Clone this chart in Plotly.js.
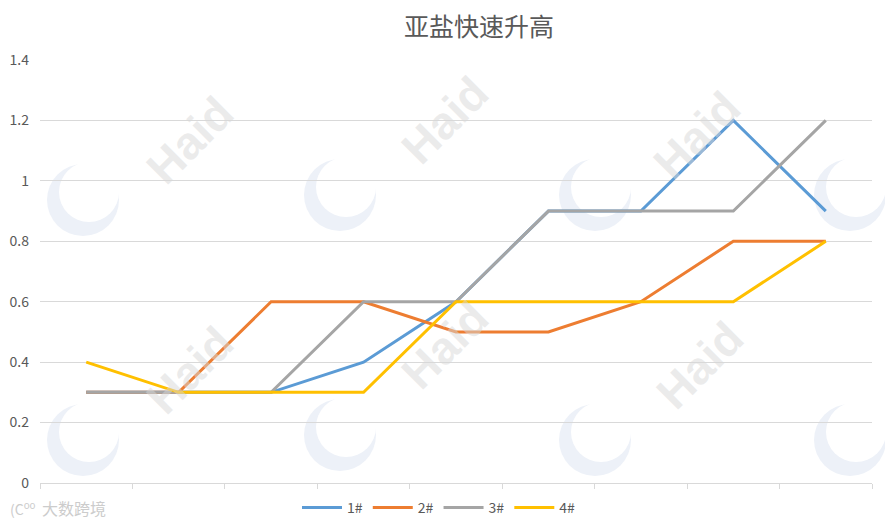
<!DOCTYPE html>
<html>
<head>
<meta charset="utf-8">
<script src="https://cdn.plot.ly/plotly-3.0.1.min.js"></script>
<style>html,body{margin:0;padding:0;background:#fff;}#chart{width:885px;height:523px;}</style>
</head>
<body>
<div id="chart"></div>
<script>
const categories = [1, 2, 3, 4, 5, 6, 7, 8, 9];
const seriesNames = ["1#", "2#", "3#", "4#"];
const s1 = [0.3, 0.3, 0.3, 0.4, 0.6, 0.9, 0.9, 1.2, 0.9];
const s2 = [0.3, 0.3, 0.6, 0.6, 0.5, 0.5, 0.6, 0.8, 0.8];
const s3 = [0.3, 0.3, 0.3, 0.6, 0.6, 0.9, 0.9, 0.9, 1.2];
const s4 = [0.4, 0.3, 0.3, 0.3, 0.6, 0.6, 0.6, 0.6, 0.8];
const yTicks = [0, 0.2, 0.4, 0.6, 0.8, 1, 1.2, 1.4];
const yTickText = ["0", "0.2", "0.4", "0.6", "0.8", "1", "1.2", "1.4"];
const colors = ["#5B9BD5", "#ED7D31", "#A5A5A5", "#FFC000"];

const seriesData = [s1, s2, s3, s4];
const xIdx = categories.map((c, i) => i);
const traces = seriesData.map((ys, k) => ({
  x: xIdx, y: ys, name: seriesNames[k], type: "scatter", mode: "lines",
  line: {color: colors[k], width: 3}
}));

const boundaries = [];
for (let i = 0; i <= categories.length; i++) boundaries.push(i - 0.5);

const font = "'Noto Sans CJK SC', 'Noto Sans', sans-serif";

// decorative watermark (Haid logo) - purely cosmetic
const W = 885, H = 523, ML = 40, MR = 13, MT = 60, MB = 40;
const PW = W - ML - MR, PH = H - MT - MB;
const px = x => (x - ML) / PW;
const py = y => (H - MB - y) / PH;
const wmText = [[190,140],[445,120],[697,135],[190,370],[445,345],[700,365]];
const wmRing = [[83,200],[340,195],[595,195],[850,195],[83,440],[340,435],[595,440],[850,440]];
const annotations = [];
const shapes = [];
wmRing.forEach(p => {
  const cx = px(p[0]), cy = py(p[1]);
  shapes.push({type: "circle", xref: "paper", yref: "paper", xsizemode: "pixel", ysizemode: "pixel",
    xanchor: cx, yanchor: cy, x0: -36, x1: 36, y0: -36, y1: 36, layer: "below",
    fillcolor: "#edf1f8", line: {width: 0}});
  shapes.push({type: "circle", xref: "paper", yref: "paper", xsizemode: "pixel", ysizemode: "pixel",
    xanchor: cx, yanchor: cy, x0: -24, x1: 36, y0: -22, y1: 38, layer: "below",
    fillcolor: "#ffffff", line: {width: 0}});
});
wmText.forEach(p => annotations.push({text: "<b>Haid</b>", x: px(p[0]), y: py(p[1]),
  xref: "paper", yref: "paper", xanchor: "center", yanchor: "middle", showarrow: false, textangle: -45,
  font: {family: "Liberation Sans, Arial, sans-serif", size: 46, color: "rgba(215,215,215,0.5)"}}));
annotations.push({text: "大数跨境", x: px(40), y: py(508), xref: "paper", yref: "paper",
  xanchor: "left", yanchor: "middle", showarrow: false,
  font: {family: font, size: 16, color: "#cccccc"}});
annotations.push({text: "(C<sup>oo</sup>", x: px(8), y: py(508), xref: "paper", yref: "paper",
  xanchor: "left", yanchor: "middle", showarrow: false,
  font: {family: font, size: 14, color: "#cccccc"}});

const layout = {
  width: W, height: H,
  margin: {l: ML, r: MR, t: MT, b: MB},
  paper_bgcolor: "#ffffff", plot_bgcolor: "rgba(0,0,0,0)",
  title: {text: "亚盐快速升高", x: 479 / W, xref: "container", xanchor: "center",
    y: 1 - 27 / H, yref: "container", yanchor: "middle",
    font: {family: font, size: 25, color: "#595959"}},
  xaxis: {range: [-0.5, categories.length - 0.5], tickmode: "array", tickvals: boundaries,
    showticklabels: false, ticks: "outside", ticklen: 5, tickcolor: "#d9d9d9",
    showgrid: false, zeroline: false, showline: true, linecolor: "#d9d9d9", linewidth: 1, fixedrange: true},
  yaxis: {range: [0, 1.4], tickmode: "array", tickvals: yTicks, ticktext: yTickText,
    showgrid: true, gridcolor: "#d9d9d9", gridwidth: 1, zeroline: false, showline: false,
    ticks: "", tickfont: {family: font, size: 14, color: "#595959"}, ticklabelstandoff: 10},
  showlegend: true,
  legend: {orientation: "h", x: 439 / W, xref: "container", xanchor: "center",
    y: 15 / H, yref: "container", yanchor: "middle",
    font: {family: font, size: 14, color: "#595959"}, itemwidth: 40, tracegroupgap: 0,
    bgcolor: "rgba(0,0,0,0)"},
  shapes: shapes,
  annotations: annotations
};

Plotly.newPlot("chart", traces, layout, {displayModeBar: false, staticPlot: true});
</script>
</body>
</html>
